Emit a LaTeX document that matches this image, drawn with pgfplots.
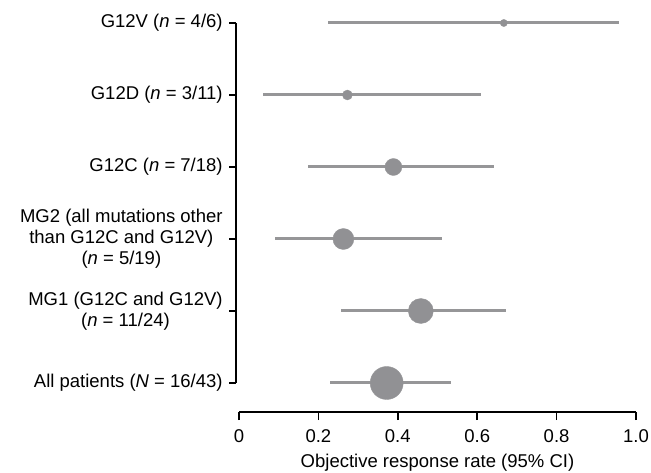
\documentclass[border=0pt]{standalone}
\usepackage{pgfplots}
\pgfplotsset{compat=1.18}
\usepackage{fontspec}
\setmainfont{Liberation Sans}
\definecolor{gcol}{RGB}{150,150,152}
\definecolor{mcol}{RGB}{145,145,148}
\newcommand{\bigf}{\fontsize{18.5pt}{21pt}\selectfont}
\begin{document}
\bigf
\begin{tikzpicture}[font=\bigf]
\path[use as bounding box] (0,0) rectangle (651pt,-473pt);
\begin{axis}[
  at={(236pt,-23pt)}, anchor=north west,
  scale only axis, width=400pt, height=360pt,
  xmin=-0.0076, xmax=1, ymin=0, ymax=5,
  axis x line=none, axis y line*=left,
  clip=false,
  ytick={0,1,2,3,4,5},
  yticklabels={
    {All patients (\textit{N} = 16/43)},
    {MG1 (G12C and G12V)\\(\textit{n} = 11/24)},
    {MG2 (all mutations other\\than G12C and G12V)\\(\textit{n} = 5/19)},
    {G12C (\textit{n} = 7/18)},
    {G12D (\textit{n} = 3/11)},
    {G12V (\textit{n} = 4/6)}},
  every tick label/.append style={font=\bigf},
  yticklabel style={align=center, font=\bigf},
  tick align=outside, major tick length=7pt,
  y axis line style={line width=1.6pt},
  ytick style={line width=1.6pt, black},
  every axis plot/.append style={only marks, mark=*, color=gcol,
    mark options={draw=none, fill=mcol},
    /pgfplots/error bars/x dir=both,
    /pgfplots/error bars/x explicit,
    /pgfplots/error bars/error mark=none,
    /pgfplots/error bars/error bar style={line width=3pt, color=gcol}},
]
\addplot[mark size=3.6pt] coordinates {(0.667,5) += (0.290,0) -= (0.444,0)};
\addplot[mark size=5pt] coordinates {(0.273,4) += (0.337,0) -= (0.213,0)};
\addplot[mark size=8.5pt] coordinates {(0.389,3) += (0.254,0) -= (0.216,0)};
\addplot[mark size=10.5pt] coordinates {(0.263,2) += (0.249,0) -= (0.172,0)};
\addplot[mark size=12.5pt] coordinates {(0.458,1) += (0.214,0) -= (0.202,0)};
\addplot[mark size=16.5pt] coordinates {(0.372,0) += (0.161,0) -= (0.142,0)};
\end{axis}
\begin{axis}[
  at={(239pt,-412pt)}, anchor=south west,
  scale only axis, width=397pt, height=10pt,
  xmin=0, xmax=1, ymin=0, ymax=1,
  axis y line=none, axis x line*=bottom,
  xtick={0,0.2,0.4,0.6,0.8,1.0},
  xticklabels={0,0.2,0.4,0.6,0.8,1.0},
  every tick label/.append style={font=\bigf},
  xticklabel style={font=\bigf, yshift=-3pt},
  tick align=outside, major tick length=8pt,
  x axis line style={line width=1.6pt},
  xtick style={line width=1.6pt, black},
  xlabel={Objective response rate (95\% CI)},
  xlabel style={font=\bigf, yshift=1pt},
]
\addplot[draw=none] coordinates {(0,0)};
\end{axis}
\end{tikzpicture}
\end{document}
